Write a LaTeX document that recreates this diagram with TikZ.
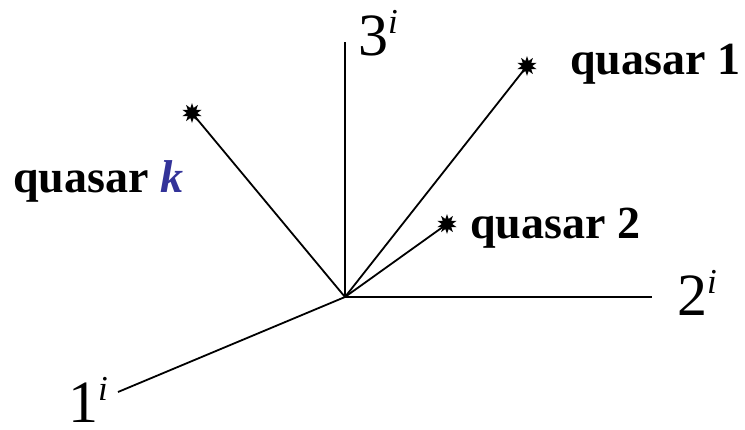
\documentclass[tikz,border=0pt]{standalone}
\usepackage{fontspec}
\setmainfont{Liberation Serif}
\usetikzlibrary{shapes.geometric}
\definecolor{kblue}{RGB}{51,51,153}
\tikzset{
  axisline/.style={line width=1.8pt, black},
  qstar/.style={star, star points=10, star point ratio=1.9, fill=black, draw=none, minimum size=20pt, inner sep=0pt},
  qlabel/.style={inner sep=0pt, anchor=base west, font=\fontsize{46}{50}\selectfont\bfseries},
  axlabel/.style={inner sep=0pt, anchor=base west, font=\fontsize{60}{60}\selectfont}
}
\newcommand{\supi}{\raisebox{22pt}{\fontsize{35}{35}\selectfont\itshape i}}
\begin{document}
\begin{tikzpicture}[x=1pt,y=-1pt]
\useasboundingbox (0,0) rectangle (745,429);
\coordinate (O) at (345,297);
\coordinate (a3) at (345,42);
\coordinate (a2) at (652,297);
\coordinate (a1) at (118,392);
\node[qstar] (q1) at (527,66) {};
\node[qstar] (q2) at (447,224) {};
\node[qstar] (qk) at (192,113) {};
\draw[axisline] (O) -- (a3);
\draw[axisline] (O) -- (a2);
\draw[axisline] (O) -- (a1);
\draw[axisline] (O) -- (q1.center);
\draw[axisline] (O) -- (q2.center);
\draw[axisline] (O) -- (qk.center);
\node[qlabel] (l1) at (570,74) {quasar 1};
\node[qlabel] (l2) at (470,238) {quasar 2};
\node[qlabel] (lk) at (13,192) {quasar \textcolor{kblue}{\itshape k}};
\node[axlabel] (t3) at (358,55) {3\supi};
\node[axlabel] (t2) at (677,315) {2\supi};
\node[axlabel] (t1) at (68,422) {1\supi};
\end{tikzpicture}
\end{document}
